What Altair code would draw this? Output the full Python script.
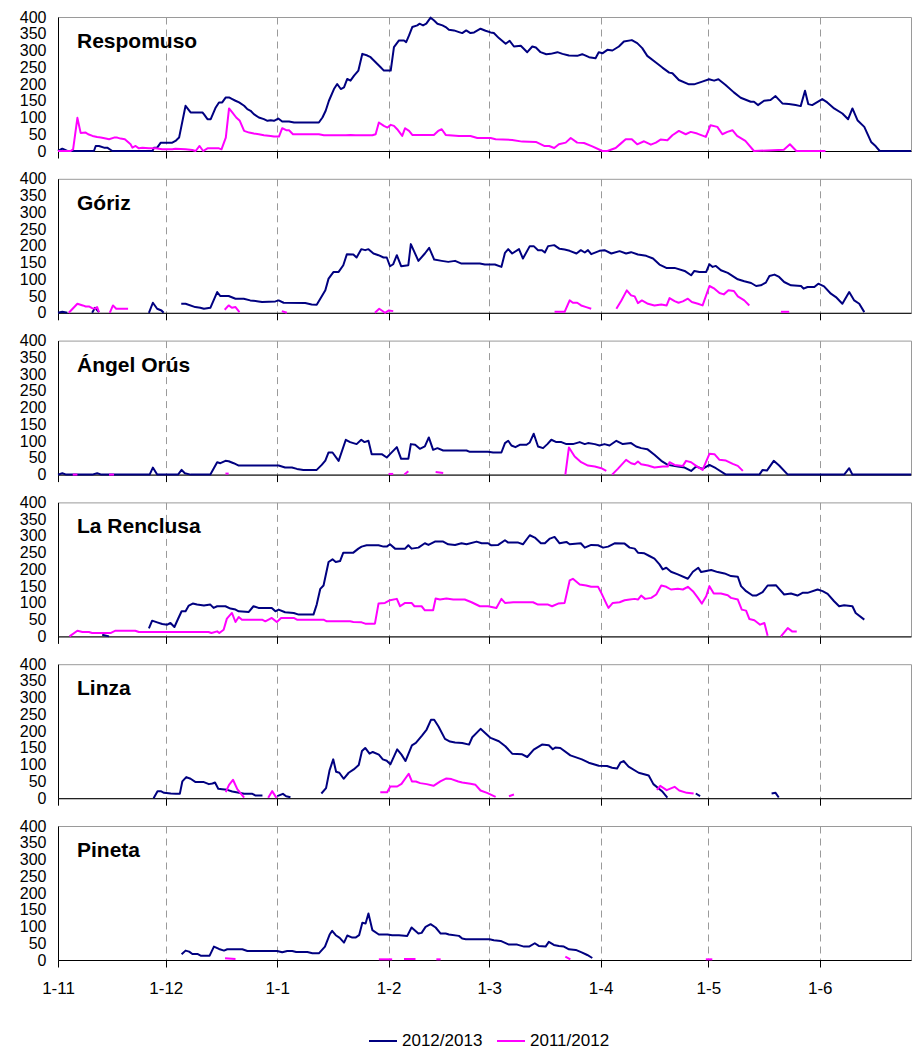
import altair as alt
import pandas as pd

FONT = "Liberation Sans"
STATIONS = ["Respomuso", "Góriz", "Ángel Orús", "La Renclusa", "Linza", "Pineta"]
SEASONS = ["2012/2013", "2011/2012"]
COLORS = ["#000080", "#FF00FF"]
TICK_DAYS = [0, 30, 61, 92, 120, 151, 181, 212]
TICK_LABELS = ["1-11", "1-12", "1-1", "1-2", "1-3", "1-4", "1-5", "1-6"]
Y_TICKS = [0, 50, 100, 150, 200, 250, 300, 350, 400]

# day = days since 1 November; None separates line segments (gaps)
RESP_A_D = [0, 1.2, 2.6, 10, 10.5, 11.4, 12.8, 13.7, 15.1, 26.3,
            26.7, 27.6, 28.6, 31.8, 32.7, 33.7, 35.5, 36.9, 38.3, 40.2,
            40.6, 41.6, 42.5, 43.9, 44.8, 45.7, 46.7, 47.6, 48.5, 49.4,
            50.4, 51.8, 52.7, 53.6, 54.5, 55.9, 57.3, 58.3, 59.2, 60.1,
            61.3, 62.4, 64.3, 65.7, 72.6, 73.6, 74.5, 75.4, 76.8, 77.7,
            78.7, 79.6, 80.5, 81.4, 82.4, 83.6, 84.7, 86.1, 87, 88.4,
            89.8, 90.7, 92.6, 93.5, 94.9, 96.3, 96.9, 97.7, 98.6, 100,
            100.6, 101.6, 102.5, 103.7, 104.6, 105.6, 107, 107.9, 108.8, 110.2,
            111.6, 112.5, 113.6, 114.8, 115.8, 117.6, 119, 120.4, 121.3, 122.7,
            124.6, 125.7, 126.9, 128.8, 130.6, 132, 133, 134.3, 135.9, 137.1,
            139, 140.4, 142.2, 144.5, 145.9, 147.8, 149.6, 150.5, 151.6, 152.9,
            154.3, 156.1, 157.5, 159.7, 161.2, 162.6, 164, 166.4, 168.2, 170.1,
            171, 172.8, 175.6, 177, 179.3, 181.2, 182.6, 183.8, 185.8, 188.1,
            190, 192.8, 193.7, 194.8, 196.5, 198.3, 199.7, 201.6, 203.4, 205.3,
            206.7, 207.9, 208.8, 209.9, 212.7, 214.1, 216, 218.3, 219.9, 221.1,
            222.5, 224.4, 226.3, 227.6, 228.7, 237.4]
RESP_A_V = [0, 7, 0, 0, 15, 15, 10, 10, 0, 0,
            10, 10, 25, 25, 30, 40, 135, 115, 115, 115,
            110, 95, 95, 130, 145, 145, 160, 160, 155, 150,
            145, 135, 125, 120, 110, 100, 95, 90, 92, 90,
            97, 88, 88, 85, 85, 100, 120, 150, 185, 200,
            185, 190, 215, 210, 225, 240, 290, 285, 280, 265,
            250, 240, 240, 310, 330, 330, 325, 345, 370, 375,
            380, 375, 380, 398, 390, 380, 375, 370, 362, 360,
            355, 352, 360, 352, 354, 365, 359, 354, 352, 337,
            320, 329, 312, 314, 295, 312, 309, 295, 289, 290,
            295, 290, 285, 284, 289, 280, 277, 295, 292, 302,
            300, 312, 327, 331, 322, 307, 284, 264, 249, 234,
            232, 212, 199, 199, 207, 214, 210, 214, 197, 175,
            159, 147, 147, 137, 150, 152, 164, 142, 140, 137,
            134, 180, 140, 137, 155, 145, 127, 112, 95, 127,
            92, 72, 27, 14, 0, 0]

RESP_B_D = [0, 3.5, 4.2, 5.4, 6.3, 7.7, 8.4, 9.6, 10.9, 11.9,
            13.3, 14.2, 15.6, 16.5, 17.4, 18.6, 20.2, 20.7, 21.6, 22.5,
            23.5, 25.3, 27.2, 29, 31.8, 32.7, 35.5, 37.4, 38.3, 39.4,
            40.4, 41.6, 44.8, 45.5, 46.7, 47.6, 48.5, 49.6, 50.6, 51.8,
            53.2, 54.5, 55.9, 57.3, 59.2, 60.1, 61.5, 62.4, 63.5, 64.3,
            65.4, 72.6, 74, 80.1, 81.4, 82.8, 87.5, 88.4, 89.3, 90.7,
            91.7, 92.6, 93.5, 94.4, 95.8, 96.6, 97.7, 98.6, 104.6, 105.8,
            106.8, 107.9, 111.6, 114.8, 116.7, 120.4, 121.8, 126.4, 129.2, 133,
            135.3, 136.7, 138.1, 139.4, 141.3, 142.7, 144.5, 146.4, 148.7, 151.5,
            152.9, 155.2, 156.6, 158, 159.7, 161.2, 163.1, 165, 166.4, 167.7,
            169.6, 171, 172.8, 174.7, 176.1, 177.9, 180.3, 181.6, 183.5, 184.9,
            186.3, 187.7, 189, 191.3, 193.7, 202, 203.7, 205.5, 213.6]
RESP_B_V = [0, 0, 5, 99, 54, 55, 50, 45, 42, 40,
            37, 35, 40, 40, 37, 35, 20, 10, 15, 8,
            10, 8, 8, 5, 5, 7, 5, 3, 0, 15,
            0, 8, 8, 5, 40, 127, 115, 100, 90, 60,
            55, 52, 50, 47, 45, 43, 43, 68, 62, 62,
            50, 50, 47, 47, 48, 47, 47, 50, 85, 75,
            70, 78, 75, 65, 45, 68, 60, 48, 48, 60,
            65, 48, 45, 45, 39, 39, 35, 33, 28, 27,
            15, 15, 9, 20, 25, 39, 25, 24, 14, 0,
            0, 9, 22, 35, 35, 20, 29, 19, 25, 34,
            32, 47, 60, 50, 57, 52, 42, 77, 72, 50,
            57, 62, 45, 30, 0, 4, 20, 0, 0]

GOR_A_D = [0, 1.2, 2.6, None, 9.5, 10.3, 11.4, None,
           25.3, 26.4, 27.6, 28.8, 29.4, None,
           34.3, 35.5, 38.2, 39.6, 40.6, 42.4, 44.3, 45.2, 47.5, 49.4,
           51.7, 53.5, 55.8, 56.8, 60.5, 61.4, 62.8, 68.8, 70.6, 72,
           73, 74.4, 75.3, 76.7, 78.1, 79.4, 80.4, 82.2, 83.1, 84.4,
           85.5, 86.4, 87.8, 89.2, 90.6, 91.5, 92.4, 93.3, 94.3, 95.5,
           97.5, 98.2, 100.3, 102.1, 103.3, 104.7, 106.8, 108.6, 110.5, 112.3,
           117.4, 118.8, 121.6, 123.4, 124.4, 125.3, 126.4, 128.3, 129.4, 131.3,
           132.4, 133.6, 134.7, 135.5, 136.4, 138.1, 139.6, 141, 142.4, 144.3,
           145.5, 146.6, 147.5, 148.4, 150.7, 152.1, 154, 156.3, 158.1, 159.5,
           161.4, 163.7, 165.6, 167.4, 169.3, 171.6, 174.4, 176.2, 177.1, 178.5,
           180.4, 181.3, 182.2, 183.1, 184.5, 186.4, 189.2, 191, 192.9, 194.3,
           195.6, 197, 198, 199.4, 200.7, 202.1, 204, 206.8, 207.5, 208.6,
           210.5, 211.6, 213.2, 215.1, 216.5, 218.3, 220.2, 221.6, 223, 224.4]
GOR_A_V = [0, 3, 0, None, 0, 15, 2, None,
           0, 30, 12, 7, 0, None,
           27, 27, 17, 15, 12, 15, 62, 50, 50, 42,
           42, 37, 34, 32, 34, 37, 30, 29, 25, 24,
           42, 67, 102, 122, 122, 142, 175, 174, 165, 190,
           187, 190, 177, 172, 165, 165, 139, 145, 172, 139,
           142, 205, 155, 177, 194, 159, 155, 152, 155, 147,
           147, 144, 144, 137, 179, 190, 177, 190, 162, 199,
           199, 187, 187, 180, 199, 202, 191, 189, 185, 177,
           187, 180, 187, 175, 185, 187, 177, 184, 177, 181,
           174, 170, 162, 144, 134, 134, 125, 112, 125, 122,
           122, 145, 137, 140, 127, 119, 100, 94, 89, 80,
           82, 90, 110, 114, 107, 92, 82, 80, 72, 77,
           77, 87, 79, 57, 47, 27, 62, 37, 27, 2]

GOR_B_D = [3, 5.4, 6.9, 7.7, 8.6, 9.5, 10.4, 10.9, 11.4, None,
           14.4, 15.3, 16.2, 19.5, None,
           46.4, 47.5, 48.4, 49.4, 50.5, None,
           62.3, 63.7, None,
           88.2, 89.4, 90.6, 91, 92.1, 93.3, None,
           138.2, 141, 142.4, 143.3, 144.5, 145.6, 147, 148.4, None,
           155.4, 156.8, 158.3, 159.5, 160.5, 161.4, 162.5, 164.2, 166, 167.9,
           169.4, 170.2, 171.6, 172.7, 173.9, 175.3, 176.4, 178.1, 179.4, 181.3,
           182.7, 184.1, 185.3, 186.6, 188.1, 189.2, 191, 192.4, None,
           201.2, 203.5]
GOR_B_V = [0, 27, 22, 19, 19, 14, 12, 17, 2, None,
           0, 22, 12, 12, None,
           9, 22, 15, 17, 2, None,
           5, 0, None,
           0, 12, 3, 0, 7, 5, None,
           3, 3, 37, 30, 30, 22, 17, 12, None,
           12, 37, 67, 52, 49, 29, 37, 27, 22, 25,
           22, 44, 35, 30, 34, 42, 32, 27, 22, 80,
           72, 59, 55, 67, 65, 49, 37, 22, None,
           3, 3]

ANG_A_D = [0, 1.2, 2.3, 9.5, 10.9, 12.1, 25.5, 26.4, 27.6, 33.4,
           34.4, 35.3, 36.9, 42.4, 44.3, 45.2, 46.6, 47.5, 48.9, 50.3,
           61.4, 63.2, 65.1, 66.5, 68.3, 72, 73.4, 74.4, 75.3, 76.4,
           78.1, 80.1, 81.3, 83.1, 84.4, 85.3, 86.4, 87.3, 90.1, 91.5,
           92.4, 94.3, 95.5, 97.5, 98.2, 99.4, 100.7, 102.1, 103.2, 104.4,
           105.6, 107.2, 113.7, 114.6, 119.7, 121.1, 123.4, 124.4, 125.3, 126.2,
           127.3, 128.5, 130.4, 131.3, 132.4, 133.6, 135, 136.2, 137.3, 138.7,
           140.1, 141.5, 143.3, 145.2, 146.6, 147.5, 149.4, 150.7, 152.1, 153.5,
           155.4, 157.2, 159.5, 160.9, 162.3, 164, 166, 167.9, 169.7, 172.5,
           174.4, 176.2, 177.6, 179.4, 181.3, 183.1, 185.9, 195.2, 196.1, 197.3,
           199.2, 200.7, 203.1, 218.8, 220.2, 221.1, 237.4]
ANG_A_V = [0, 4, 0, 0, 4, 0, 0, 21, 0, 0,
           14, 4, 0, 0, 37, 34, 41, 40, 34, 27,
           27, 21, 21, 17, 14, 14, 29, 42, 66, 66,
           41, 104, 97, 91, 104, 97, 101, 61, 61, 51,
           61, 82, 47, 47, 91, 89, 77, 84, 111, 74,
           79, 72, 72, 68, 68, 66, 66, 94, 101, 87,
           82, 89, 89, 96, 122, 84, 79, 91, 104, 97,
           97, 91, 91, 97, 91, 94, 91, 87, 91, 87,
           101, 91, 94, 84, 79, 76, 59, 41, 29, 24,
           21, 11, 24, 17, 29, 19, 0, 0, 14, 12,
           41, 27, 0, 0, 19, 0, 0]

ANG_B_D = [4.1, 5.4, None, 14.2, 15.6, None, 46.6, 47.5, None,
           92, 93.3, None, 96.4, 97.5, None, 105.1, 107.2, None,
           141.2, 142.2, 143.8, 145.6, 147.5, 149.4, 151.2, 152.6, None,
           154.2, 155.8, 158.1, 159.5, 160.5, 161.4, 162.3, 164.2, 166, 168.3,
           169.7, 170.2, 171.6, 173.9, 174.8, 176.2, 177.6, 179.4, 181.3, 182.7,
           184.1, 185.9, 187.8, 189.2, 190.6]
ANG_B_V = [0, 0, None, 0, 0, None, 3, 3, None,
           2, 2, None, 0, 10, None, 8, 5, None,
           0, 81, 54, 37, 27, 24, 19, 11, None,
           0, 17, 44, 34, 31, 39, 31, 27, 21, 24,
           24, 37, 29, 26, 41, 37, 26, 14, 62, 61,
           44, 42, 32, 26, 11]

REN_A_D = [12.3, 14.2, None,
           25.3, 26.2, 27.6, 29, 30.4, 31.3, 32.4, 33.4, 34.4, 35.5,
           36.4, 37.5, 38.7, 40.6, 42.4, 43.3, 44.3, 46.6, 48, 49.4,
           50.3, 53.1, 54.4, 55.8, 59.5, 60.5, 61.4, 63.2, 65.6, 67,
           71.1, 72, 73, 73.9, 75.3, 76.4, 77.3, 78.5, 79.4, 82.2,
           83.6, 84.5, 85.9, 89.2, 90.6, 91.5, 92.4, 93.8, 96.6, 97.5,
           98.4, 100.3, 102.1, 103.1, 104.9, 107.2, 108.6, 110.5, 112.3, 113.7,
           116.5, 117.9, 119.7, 120.6, 122.5, 124.4, 125.3, 128.1, 129.4, 131.3,
           132.7, 134.4, 135.5, 136.9, 138.2, 139.6, 141.5, 142.4, 145.5, 146.6,
           148.4, 150.3, 151.7, 153.1, 154.9, 157.7, 159.1, 160.5, 161.4, 163.2,
           164.6, 166, 167.4, 168.3, 169.3, 170.6, 172.5, 175.3, 176.7, 178.2,
           179, 181.8, 183.6, 185.5, 187.3, 189.2, 190.1, 191.5, 193.3, 194.3,
           196.1, 197.5, 199.8, 200.7, 202.1, 204, 205.8, 207.2, 208.6, 211.4,
           212.8, 214.2, 216, 217.4, 218.8, 221.1, 222, 224.4]
REN_A_V = [5, 0, None,
           24, 47, 42, 37, 35, 40, 28, 52, 75, 75,
           92, 98, 95, 92, 95, 85, 90, 90, 83, 80,
           75, 73, 90, 85, 85, 75, 80, 72, 70, 65,
           65, 95, 142, 152, 222, 230, 222, 225, 250, 250,
           262, 268, 272, 272, 268, 268, 275, 262, 262, 272,
           262, 265, 278, 273, 283, 283, 275, 273, 278, 275,
           283, 278, 278, 272, 273, 287, 280, 280, 275, 302,
           295, 278, 278, 292, 297, 278, 282, 275, 278, 265,
           273, 272, 265, 268, 278, 277, 265, 262, 250, 248,
           240, 232, 215, 200, 205, 193, 185, 172, 193, 205,
           192, 198, 192, 188, 180, 178, 150, 135, 122, 122,
           132, 152, 153, 142, 125, 128, 122, 130, 130, 140,
           135, 127, 105, 90, 93, 90, 70, 50]

REN_B_D = [3.2, 5.4, 6.8, 8.6, 9.5, 14.6, 16, 21.5, 22.5, 41.9,
           42.7, 44.3, 44.9, 46.1, 47, 48.4, 49.4, 50.3, 51.2, 56.8,
           57.7, 59.5, 60.9, 62.1, 65.6, 66.5, 73.9, 74.8, 81.3, 82.2,
           84.5, 85.5, 88.2, 89.2, 91, 92.4, 94.3, 95.2, 96.6, 98.4,
           99.2, 101.2, 102.1, 104.4, 105.1, 106.3, 108.1, 110, 113.2, 115.1,
           117.4, 119.7, 122, 123.4, 124.4, 126.7, 132.2, 133.6, 136.4, 137.5,
           139.2, 141, 142.4, 143.3, 145.2, 147, 148.4, 150.3, 151.2, 152.6,
           153.2, 154.4, 156.3, 157.7, 159.1, 160.5, 161.4, 162.3, 163.4, 165.1,
           166.5, 167.9, 169.3, 170.6, 172.5, 173.9, 175.3, 176.7, 178.1, 179.2,
           180.4, 181.3, 182.5, 184.5, 186.4, 187.3, 189.2, 190.3, 191.5, 192.4,
           193.8, 195.4, 196.6, 197.5, None,
           201.2, 203.1, 204.3, 205.6]
REN_B_V = [0, 17, 13, 13, 10, 10, 17, 17, 13, 13,
           10, 15, 10, 20, 53, 70, 43, 58, 50, 50,
           45, 55, 43, 55, 55, 50, 50, 45, 45, 43,
           42, 38, 38, 98, 100, 108, 112, 90, 100, 100,
           90, 90, 78, 78, 113, 110, 113, 110, 110, 102,
           90, 90, 85, 112, 100, 102, 102, 95, 95, 90,
           98, 100, 167, 172, 155, 152, 148, 148, 130, 98,
           85, 100, 102, 108, 110, 112, 110, 122, 112, 115,
           125, 152, 148, 140, 142, 140, 148, 135, 115, 98,
           120, 150, 128, 128, 123, 115, 110, 80, 77, 52,
           48, 35, 40, 2, None,
           0, 25, 15, 15]

LIN_A_D = [26.6, 27.7, 28.6, 29.5, 31.4, 32.8, 33.9, 34.6, 35.7, 36.9,
           38.3, 40.6, 42, 43, 43.7, 44.6, 45.7, 47.1, 48.5, 50.4,
           51.8, 54.1, 55, 56.9, None,
           61, 62.6, 63.5, 64.7, None,
           73.3, 74.6, 75.6, 76.6, 77.4, 78.3, 79.5, 80.9, 82.3, 83.7,
           84.6, 85.5, 86.7, 87.6, 89.3, 90.4, 91.5, 92.5, 94.4, 95.6,
           96.7, 98.5, 99.6, 101.3, 102.6, 103.8, 104.7, 105.9, 107.7, 109.1,
           110.5, 112.5, 114.4, 115.3, 117.6, 120.4, 122.7, 124.5, 126.4, 129.2,
           130.6, 132.4, 134.7, 136.6, 137.7, 138.4, 139.8, 142.6, 145.8, 147.7,
           150.5, 152.8, 154.2, 155.6, 156.5, 157.4, 158.8, 161.6, 164.4, 165.7,
           168.1, 169.6, None,
           177.5, 178.7, None,
           198.6, 199.7, 200.6]
LIN_A_V = [0, 21, 21, 16, 14, 13, 13, 50, 63, 58,
           48, 48, 42, 44, 47, 28, 27, 25, 20, 16,
           13, 13, 8, 8, None,
           6, 13, 6, 3, None,
           14, 30, 84, 116, 79, 76, 58, 76, 86, 99,
           141, 150, 133, 138, 130, 116, 112, 101, 146, 130,
           111, 158, 165, 187, 205, 234, 234, 214, 177, 169,
           166, 165, 160, 182, 207, 180, 170, 155, 133, 131,
           123, 145, 160, 158, 146, 151, 150, 128, 116, 106,
           97, 96, 91, 89, 106, 111, 94, 76, 68, 42,
           21, 2, None,
           14, 6, None,
           14, 16, 2]

LIN_B_D = [46.7, 47.6, 48.7, 49.9, 51.8, None,
           58.5, 59.6, 60.8, None,
           89.7, 91.6, 92.5, 94.4, 95.6, 97.6, 98.5, 99.6, 100.8, 102.6,
           104.5, 106.4, 108.1, 109.5, 111.4, 112.5, 114.8, 116.2, 117.6, 119.4,
           121.8, None,
           125.5, 126.9, None,
           166.7, 167.6, 169.4, 171.6, 172.9, 175, 176.9]
LIN_B_V = [18, 40, 55, 27, 2, None,
           1, 21, 1, None,
           18, 18, 35, 35, 43, 73, 50, 50, 45, 42,
           37, 50, 59, 57, 50, 47, 43, 40, 23, 16,
           4, None,
           6, 11, None,
           25, 37, 24, 34, 23, 16, 14]

PIN_A_D = [34.4, 35.5, 36.5, 37.4, 38.8, 39.7, 42.2, 43.4, 44.8, 46.2,
           47.1, 51.3, 52.7, 61, 62.4, 63.8, 65.2, 66.3, 69.4, 70.8,
           72.6, 74.3, 75.6, 76.3, 77.3, 78.4, 79.6, 80.5, 81.9, 82.8,
           83.8, 84.7, 85.6, 86.4, 87.5, 89.3, 91.7, 93, 94.9, 97.2,
           98.4, 100.3, 101.2, 102.3, 103.7, 105.1, 106.5, 107.9, 108.8, 111.6,
           112.5, 113.5, 120.1, 121.3, 123.2, 125.5, 127.8, 129.7, 131.1, 132.7,
           133.8, 135.7, 136.6, 138, 139.4, 140.8, 142.2, 144.1, 145.9, 147.3,
           148.7]
PIN_A_V = [17, 28, 25, 18, 18, 13, 13, 40, 33, 28,
           32, 32, 27, 27, 23, 27, 27, 24, 24, 20,
           20, 40, 76, 87, 74, 66, 52, 73, 67, 67,
           74, 111, 109, 139, 89, 76, 76, 74, 74, 72,
           97, 79, 81, 99, 107, 97, 79, 79, 76, 72,
           64, 62, 62, 59, 57, 46, 46, 40, 40, 50,
           42, 40, 54, 45, 42, 40, 32, 30, 22, 15,
           6]

PIN_B_D = [46.5, 49.4, None, 89.3, 93, None, 96.3, 99.5, None,
           105.3, 106.5, None, 141.2, 142.6, None, 180.3, 182.1]
PIN_B_V = [5, 3, None, 2, 2, None, 3, 3, None,
           2, 2, None, 10, 2, None, 2, 2]

SERIES = [
    ("Respomuso", RESP_A_D, RESP_A_V, RESP_B_D, RESP_B_V),
    ("Góriz", GOR_A_D, GOR_A_V, GOR_B_D, GOR_B_V),
    ("Ángel Orús", ANG_A_D, ANG_A_V, ANG_B_D, ANG_B_V),
    ("La Renclusa", REN_A_D, REN_A_V, REN_B_D, REN_B_V),
    ("Linza", LIN_A_D, LIN_A_V, LIN_B_D, LIN_B_V),
    ("Pineta", PIN_A_D, PIN_A_V, PIN_B_D, PIN_B_V),
]


def rows_for(station, season, days, vals):
    assert len(days) == len(vals), (station, season, len(days), len(vals))
    out, seg = [], 0
    for d, v in zip(days, vals):
        if d is None or v is None:
            seg += 1
            continue
        out.append({"station": station, "season": season, "seg": seg, "day": d, "val": v})
    return out


rows = []
for st, ad, av, bd, bv in SERIES:
    rows += rows_for(st, SEASONS[0], ad, av)
    rows += rows_for(st, SEASONS[1], bd, bv)
df = pd.DataFrame(rows)

label_expr = "''"
for d, lab in reversed(list(zip(TICK_DAYS, TICK_LABELS))):
    label_expr = f"datum.value == {d} ? '{lab}' : ({label_expr})"

PLOT_W = 853
x_scale = alt.Scale(domain=[0, 237.4], nice=False, zero=False)
y_scale = alt.Scale(domain=[0, 400], nice=False)
color_scale = alt.Scale(domain=SEASONS, range=COLORS)
legend = alt.Legend(orient="none", legendX=310, legendY=1009, direction="horizontal",
                    title=None, symbolType="stroke", symbolSize=784, symbolStrokeWidth=2,
                    labelFontSize=17, labelFont=FONT, labelColor="black",
                    columnPadding=10, labelOffset=4)

y_axis = alt.Axis(values=Y_TICKS, grid=False, ticks=False, domainColor="black",
                  labelFontSize=16, labelFont=FONT, labelColor="black",
                  labelPadding=12, title=None, labelOverlap=False, labelFlush=False)


def x_axis(show):
    return alt.Axis(values=TICK_DAYS, labelExpr=label_expr, labels=show,
                    grid=True, gridDash=[7, 5], gridColor="#9a9a9a", gridWidth=1,
                    domainColor="black", tickColor="black", tickSize=7,
                    labelFontSize=17, labelFont=FONT, labelColor="black",
                    labelPadding=13, title=None, labelOverlap=False, labelFlush=False)


panels = []
for i, st in enumerate(STATIONS):
    sub = df[df.station == st]
    layers = []
    for season in SEASONS:
        layers.append(
            alt.Chart(sub).transform_filter(alt.datum.season == season)
            .mark_line(strokeWidth=2, strokeJoin="round")
            .encode(
                x=alt.X("day:Q", scale=x_scale, axis=x_axis(i == len(STATIONS) - 1)),
                y=alt.Y("val:Q", scale=y_scale, axis=y_axis),
                color=alt.Color("season:N", scale=color_scale, legend=legend),
                detail="seg:N",
            )
        )
    title = alt.Chart(pd.DataFrame({"name": [st]})).mark_text(
        align="left", baseline="alphabetic", fontSize=21, fontWeight="bold",
        font=FONT, color="black"
    ).encode(x=alt.value(19), y=alt.value(31), text="name:N")
    panels.append(alt.layer(*layers, title).properties(width=PLOT_W, height=134))

chart = alt.vconcat(*panels, spacing=27.8, bounds="flush").configure_view(
    stroke="#9a9a9a", strokeWidth=1
).properties(padding={"left": 10, "top": 0, "right": 0, "bottom": 0})

chart.save("out.html", embed_options={"renderer": "svg", "actions": False})
